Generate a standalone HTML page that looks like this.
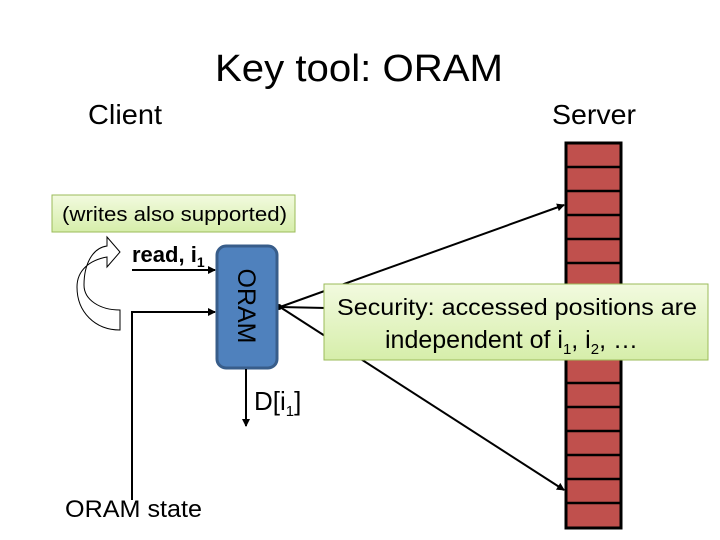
<!DOCTYPE html>
<html><head><style>
body{margin:0;width:720px;height:540px;background:#fff;overflow:hidden;font-family:"Liberation Sans","DejaVu Sans",sans-serif}
</style></head><body>
<svg width="720" height="540" xmlns="http://www.w3.org/2000/svg" style="position:absolute;left:0;top:0">
<defs>
<marker id="a" markerWidth="8" markerHeight="8" refX="7" refY="4" orient="auto" markerUnits="userSpaceOnUse"><path d="M0,0 L8,4 L0,8 z" fill="#000"/></marker>
<linearGradient id="g" x1="0" y1="0" x2="0" y2="1"><stop offset="0" stop-color="#f2fadf"/><stop offset="1" stop-color="#d6eeaa"/></linearGradient>
</defs>
<text x="215" y="81" font-size="38" textLength="288" lengthAdjust="spacingAndGlyphs">Key tool: ORAM</text>
<text x="88" y="124" font-size="28" textLength="74" lengthAdjust="spacingAndGlyphs">Client</text>
<text x="552" y="124" font-size="28" textLength="84" lengthAdjust="spacingAndGlyphs">Server</text>
<rect x="566" y="143" width="55" height="385" fill="#c0504d" stroke="#000" stroke-width="3"/>
<g stroke="#000" stroke-width="2.5">
<line x1="566" y1="167" x2="621" y2="167"/><line x1="566" y1="191" x2="621" y2="191"/><line x1="566" y1="215" x2="621" y2="215"/><line x1="566" y1="239" x2="621" y2="239"/><line x1="566" y1="263" x2="621" y2="263"/><line x1="566" y1="287" x2="621" y2="287"/><line x1="566" y1="311" x2="621" y2="311"/><line x1="566" y1="335" x2="621" y2="335"/><line x1="566" y1="359" x2="621" y2="359"/><line x1="566" y1="383" x2="621" y2="383"/><line x1="566" y1="407" x2="621" y2="407"/><line x1="566" y1="431" x2="621" y2="431"/><line x1="566" y1="455" x2="621" y2="455"/><line x1="566" y1="479" x2="621" y2="479"/><line x1="566" y1="503" x2="621" y2="503"/>
</g>
<g stroke="#000" stroke-width="2" fill="none">
<line x1="280" y1="307" x2="564" y2="205" marker-end="url(#a)"/>
<line x1="280" y1="307" x2="564" y2="490" marker-end="url(#a)"/>
<line x1="280" y1="307" x2="326" y2="308"/>
</g>
<circle cx="279" cy="307" r="3" fill="#000"/>
<rect x="324" y="284" width="384" height="76" fill="url(#g)" stroke="#9bbb59" stroke-width="1"/>
<text x="337" y="315" font-size="23" textLength="360" lengthAdjust="spacingAndGlyphs">Security: accessed positions are</text>
<text x="385" y="348" font-size="25">independent of i<tspan font-size="15" dy="6">1</tspan><tspan dy="-6">, i</tspan><tspan font-size="15" dy="6">2</tspan><tspan dy="-6">, …</tspan></text>
<rect x="52" y="195" width="243" height="37" fill="url(#g)" stroke="#9bbb59"/>
<text x="62" y="221" font-size="20" textLength="225" lengthAdjust="spacingAndGlyphs">(writes also supported)</text>
<path d="M120,330 C95,330 77,312 77,287 C77,270 90,260 107,257 L107,267 L120,252 L107,237 L107,246 C92,248 84,265 84,285 C84,300 100,310 120,310 Z" fill="#fff" stroke="#000" stroke-width="1"/>
<rect x="217" y="246" width="60" height="122" rx="9" fill="#4f81bd" stroke="#385d8a" stroke-width="3"/>
<text transform="translate(238,306) rotate(90)" font-size="25" text-anchor="middle" fill="#000">ORAM</text>
<g stroke="#000" stroke-width="2" fill="none">
<line x1="132" y1="270" x2="215" y2="270" marker-end="url(#a)"/>
<polyline points="132,500 132,312 215,312" marker-end="url(#a)"/>
<line x1="246" y1="369" x2="246" y2="426" marker-end="url(#a)"/>
</g>
<text x="132" y="262" font-size="22" font-weight="bold">read, i<tspan font-size="14" dy="5">1</tspan></text>
<text x="254" y="410" font-size="26">D[i<tspan font-size="15" dy="6">1</tspan><tspan dy="-6">]</tspan></text>
<text x="65" y="517" font-size="24" textLength="137" lengthAdjust="spacingAndGlyphs">ORAM state</text>
</svg>
</body></html>
